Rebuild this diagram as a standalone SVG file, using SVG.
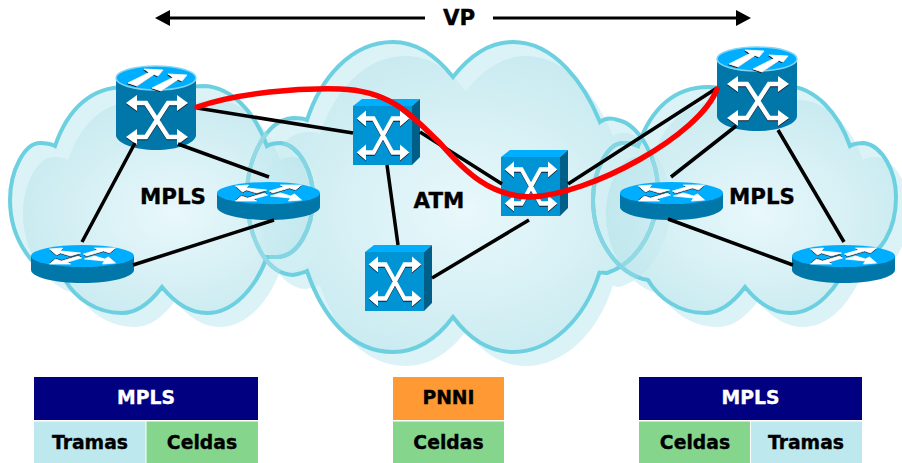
<svg xmlns="http://www.w3.org/2000/svg" width="902" height="463" viewBox="0 0 902 463">
<style>
text{font-family:"DejaVu Sans","Liberation Sans",sans-serif;font-weight:700;fill:#000;stroke:#000;stroke-width:.35;text-anchor:middle}
.big{font-size:21.400px}.cell{font-size:18.800px}text.wt{fill:#fff;stroke:#fff}
.c-stroke{fill:none;stroke:#6dd0e0;stroke-width:4;stroke-linejoin:miter}
.c-soft{fill:none;stroke-width:4}
.c-light{fill:#d3f0f4}
.link{fill:none;stroke:#000;stroke-width:3.500;stroke-linecap:butt}
.red{fill:none;stroke:#f00;stroke-width:5.500;stroke-linecap:round}
.vp{stroke:#000;stroke-width:3;fill:none}
.top{fill:#00aeff}.body{fill:#0077a8}.front{fill:#0094d4}.side{fill:#005f88}
.wa{fill:#fff;stroke:#fff;stroke-width:.8}.sh{fill:#111}
</style>
<defs>
<radialGradient id="g" cx=".5" cy=".5" r=".56"><stop offset="0" stop-color="#e4f7fb"/><stop offset="1" stop-color="#b9e5ec"/></radialGradient>
<path id="sideCloud" d="M55 146C68 108 92 87 125 87C140 87 150 92 157 100C165 92 185 86 205 86C232 88 255 112 267 146C272 143 276 143 281 143C300 146 313 172 313 197C313 230 297 257 277 257C273 257 270 257 267 257C255 290 232 313 207 313C190 313 175 303 162 287C150 303 137 313 122 313C95 313 75 297 65 280C35 275 10 240 10 200C10 170 25 143 40 143C47 143 51 144 55 146Z"/>
<path id="midCloud" d="M307 120C320 80 350 42 393 42C418 42 438 58 453 77C468 58 488 42 513 42C555 42 585 85 600 122C605 118 612 118 618 120C640 125 658 160 658 190C658 225 640 262 607 273C603 273 600 272 600 271C585 320 550 352 513 352C488 352 468 337 453 317C438 337 418 352 393 352C350 352 322 315 307 271C303 273 298 274 293 275C265 274 247 235 247 195C247 160 265 120 293 118C298 118 303 118 307 120Z"/>
<clipPath id="clipSide"><use href="#sideCloud"/></clipPath>
<clipPath id="clipMid"><use href="#midCloud"/></clipPath>
<clipPath id="leftInner"><use href="#sideCloud" transform="translate(13 14)"/></clipPath>
<clipPath id="rightInner"><use href="#sideCloud" transform="translate(596 14)"/></clipPath>
<clipPath id="midInner"><use href="#midCloud" transform="translate(13 14)"/></clipPath>
<g id="xs">
<path d="M-24 -17H-11L11 17H24M24 -17H11L-11 17H-24" fill="none" stroke-width="4.600" stroke-linejoin="miter"/>
<path d="M-31 -17L-20 -25V-9ZM31 -17L20 -25V-9ZM-31 17L-20 9V25ZM31 17L20 9V25Z" stroke="none"/>
</g>
<g id="xsym"><use href="#xs" y="1" stroke="#123" fill="#123"/><use href="#xs" stroke="#fff" fill="#fff"/></g>
<g id="cube">
<path class="top" d="M0 7L9 0H67L59 7Z"/><path class="side" d="M59 7L67 0V58L59 66Z"/><rect class="front" y="7" width="59" height="59"/>
<use href="#xsym" transform="translate(30 36.500) scale(.85 1)"/>
</g>
<g id="cyl">
<path class="body" d="M0 12V69C0 77 18 84 40 84C62 84 80 77 80 69V12Z"/>
<ellipse cx="40" cy="12" rx="40" ry="12" fill="#00aeff" stroke="#7fd4f5" stroke-width="1.500"/>
<path class="sh" d="M12 17L33 6.500L28 3L47 4L42 10L38 8.500L21 20Z" transform="translate(-1 1)"/>
<path class="wa" d="M12 17L33 6.500L28 3L47 4L42 10L38 8.500L21 20Z"/>
<path class="sh" d="M36 22L57 11.500L52 8L71 9L66 15L62 13.500L45 25Z" transform="translate(-1 1)"/>
<path class="wa" d="M36 22L57 11.500L52 8L71 9L66 15L62 13.500L45 25Z"/>
<use href="#xsym" transform="translate(41 54)"/>
</g>
<g id="router">
<path class="body" d="M0 11V25C0 32 23 38 51.500 38C80 38 103 32 103 25V11Z"/>
<ellipse cx="51.500" cy="11" rx="51.500" ry="11" class="top"/>
<g transform="translate(51.500 11)">
<path class="sh" d="M-33 -7L-20 -8L-22 -5L-2 -3L-12 0L-22 -3L-26 -1Z" transform="translate(0 1)"/>
<path class="wa" d="M-33 -7L-20 -8L-22 -5L-2 -3L-12 0L-22 -3L-26 -1Z"/>
<path class="wa" d="M33 7L20 8L22 5L2 3L12 0L22 3L26 1Z"/>
<path class="sh" d="M12 -8L33 -8L27 -3L21 -5L4 0L1 -2L15 -6Z" transform="translate(0 1)"/>
<path class="wa" d="M12 -8L33 -8L27 -3L21 -5L4 0L1 -2L15 -6Z"/>
<path class="sh" d="M-12 8L-33 8L-27 3L-21 5L-4 0L-1 2L-15 6Z" transform="translate(0 -1)"/>
<path class="wa" d="M-12 8L-33 8L-27 3L-21 5L-4 0L-1 2L-15 6Z"/>
</g>
</g>
</defs>

<g id="clouds">
<g id="cloud-atm" opacity=".8">
<use href="#midCloud" class="c-light"/><use href="#midCloud" class="c-light" transform="translate(13 14)"/>
<g clip-path="url(#clipMid)"><use href="#midCloud" fill="url(#g)" transform="translate(13 14)"/></g>
</g>
<g id="cloud-mpls-left" opacity=".8">
<use href="#sideCloud" class="c-light"/><use href="#sideCloud" class="c-light" transform="translate(13 14)"/>
<g clip-path="url(#clipSide)"><use href="#sideCloud" fill="url(#g)" transform="translate(13 14)"/></g>
</g>
<g id="cloud-mpls-right" opacity=".8" transform="translate(583 0)">
<use href="#sideCloud" class="c-light"/><use href="#sideCloud" class="c-light" transform="translate(13 14)"/>
<g clip-path="url(#clipSide)"><use href="#sideCloud" fill="url(#g)" transform="translate(13 14)"/></g>
</g>
<use href="#midCloud" class="c-stroke"/>
<use href="#sideCloud" class="c-stroke"/>
<use href="#sideCloud" class="c-stroke" transform="translate(583 0)"/>
<g clip-path="url(#leftInner)"><use href="#midCloud" class="c-soft" stroke="#93d9e4"/></g>
<g clip-path="url(#rightInner)"><use href="#midCloud" class="c-soft" stroke="#93d9e4"/></g>
<g clip-path="url(#midInner)"><use href="#sideCloud" class="c-soft" stroke="#84d5e2"/><use href="#sideCloud" class="c-soft" stroke="#84d5e2" transform="translate(583 0)"/></g>
</g>

<g id="node-lsr-left"><use href="#cyl" x="116" y="66"/></g>
<g id="node-lsr-right"><use href="#cyl" x="717" y="47"/></g>
<g id="node-router-1"><use href="#router" x="31" y="245"/></g>
<g id="node-router-2"><use href="#router" x="217" y="182"/></g>
<g id="node-router-3"><use href="#router" x="620" y="182"/></g>
<g id="node-router-4"><use href="#router" x="792" y="245"/></g>
<g id="node-atm-1"><use href="#cube" x="353" y="99"/></g>
<g id="node-atm-2"><use href="#cube" x="365" y="245"/></g>
<g id="node-atm-3"><use href="#cube" x="501" y="150"/></g>

<g id="connectors">
<path class="link" d="M197 108L353 133M420 132L502 184M387 165L398 245M432 278L529 220M568 184L717 88M135 143L82 242M178 144L269 177M133 265L274 220M736 126L671 177M778 130L844 242M668 219L793 265"/>
<path class="red" d="M197 107C240 92 300 88 340 89C395 91 415 120 440 143C465 172 490 196 530 197C590 195 700 135 717 89"/>
</g>

<g id="vp-span">
<path class="vp" d="M165 18H425M493 18H741"/>
<path d="M155 18L170 10V26ZM751 18L736 10V26Z" fill="#000"/>
<text class="big" x="459" y="25">VP</text>
</g>
<g id="cloud-labels">
<text class="big" x="173" y="204">MPLS</text>
<text class="big" x="439" y="208">ATM</text>
<text class="big" x="762" y="204">MPLS</text>
</g>

<g id="stack-left">
<rect x="34" y="377" width="224" height="43" fill="#000080"/>
<rect x="34" y="421.500" width="111.500" height="41.500" fill="#bce8ee"/>
<rect x="146.500" y="421.500" width="111.500" height="41.500" fill="#85d68c"/>
<text class="cell wt" x="146" y="404">MPLS</text><text class="cell" x="90" y="449">Tramas</text><text class="cell" x="202" y="449">Celdas</text>
</g>
<g id="stack-center">
<rect x="393" y="377" width="111" height="43" fill="#ff9933"/>
<rect x="393" y="421.500" width="111" height="41.500" fill="#85d68c"/>
<text class="cell" x="448.500" y="404">PNNI</text><text class="cell" x="448.500" y="449">Celdas</text>
</g>
<g id="stack-right">
<rect x="639" y="377" width="223" height="43" fill="#000080"/>
<rect x="639" y="421.500" width="111" height="41.500" fill="#85d68c"/>
<rect x="751" y="421.500" width="111" height="41.500" fill="#bce8ee"/>
<text class="cell wt" x="750.500" y="404">MPLS</text><text class="cell" x="695" y="449">Celdas</text><text class="cell" x="806" y="449">Tramas</text>
</g>
</svg>
